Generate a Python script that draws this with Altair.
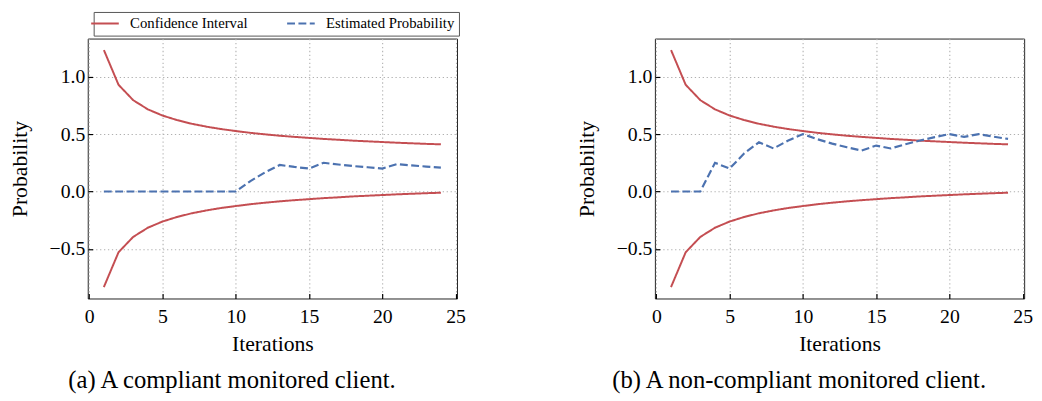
import altair as alt
import pandas as pd

iterations = [1, 2, 3, 4, 5, 6, 7, 8, 9, 10, 11, 12, 13, 14, 15, 16, 17, 18, 19, 20, 21, 22, 23, 24]
ci_upper = [1.233, 0.930, 0.796, 0.716, 0.662, 0.622, 0.590, 0.565, 0.544, 0.527, 0.511, 0.498,
            0.486, 0.476, 0.467, 0.458, 0.451, 0.443, 0.437, 0.431, 0.425, 0.420, 0.415, 0.411]
ci_lower = [-0.833, -0.530, -0.396, -0.316, -0.262, -0.222, -0.190, -0.165, -0.144, -0.127, -0.111, -0.098,
            -0.086, -0.076, -0.067, -0.058, -0.051, -0.043, -0.037, -0.031, -0.025, -0.020, -0.015, -0.011]
est_compliant = [0, 0, 0, 0, 0, 0, 0, 0, 0, 0, 0.091, 0.167,
                 0.231, 0.214, 0.200, 0.250, 0.235, 0.222, 0.211, 0.200, 0.238, 0.227, 0.217, 0.208]
est_noncompliant = [0, 0, 0, 0.250, 0.200, 0.333, 0.429, 0.375, 0.444, 0.500, 0.455, 0.417,
                    0.385, 0.357, 0.400, 0.375, 0.412, 0.444, 0.474, 0.500, 0.476, 0.500, 0.478, 0.458]

series_names = ["Confidence Interval", "Estimated Probability"]
series_colors = ["#C44E52", "#4C72B0"]
series_dashes = [[1, 0], [8, 3.5]]
x_ticks = [0, 5, 10, 15, 20, 25]
y_ticks = [-0.5, 0.0, 0.5, 1.0]
captions = ["(a) A compliant monitored client.", "(b) A non-compliant monitored client."]

FONT = "Liberation Serif"


def make_df(est):
    rows = []
    for i, x in enumerate(iterations):
        rows.append({"it": x, "val": ci_upper[i], "series": series_names[0], "part": "upper"})
        rows.append({"it": x, "val": ci_lower[i], "series": series_names[0], "part": "lower"})
        rows.append({"it": x, "val": est[i], "series": series_names[1], "part": "est"})
    return pd.DataFrame(rows)


xscale = alt.Scale(domain=[-0.1, 25.1], nice=False, zero=False)
yscale = alt.Scale(domain=[-0.933, 1.333], nice=False, zero=False)
cscale = alt.Scale(domain=series_names, range=series_colors)
dscale = alt.Scale(domain=series_names, range=series_dashes)

grid_kw = dict(grid=True, gridColor="#b0b0b0", gridDash=[1.3, 2.7], gridWidth=1.1)
text_kw = dict(labelFont=FONT, labelFontSize=20, labelColor="black",
               titleFont=FONT, titleFontSize=22, titleFontWeight="normal", titleColor="black")


def panel(est, caption):
    df = make_df(est)
    base = alt.Chart(df)
    enc_common = dict(
        color=alt.Color("series:N", scale=cscale, legend=alt.Legend(title=None)),
        strokeDash=alt.StrokeDash("series:N", scale=dscale, legend=alt.Legend(title=None)),
        detail="part:N",
    )
    ci = base.transform_filter(alt.datum.part != "est").mark_line(strokeWidth=2).encode(
        x=alt.X("it:Q", scale=xscale, title="Iterations",
                axis=alt.Axis(values=x_ticks, format="d", labelFlush=False, ticks=False, domain=False,
                              labelPadding=8, titlePadding=8, **grid_kw, **text_kw)),
        y=alt.Y("val:Q", scale=yscale, title="Probability",
                axis=alt.Axis(values=y_ticks, format=".1f", ticks=False, domain=False,
                              labelPadding=3, titlePadding=18, **grid_kw, **text_kw)),
        **enc_common,
    )
    est_line = base.transform_filter(alt.datum.part == "est").mark_line(strokeWidth=2.2).encode(
        x=alt.X("it:Q", scale=xscale, title=None,
                axis=alt.Axis(orient="bottom", offset=-5, values=x_ticks, tickSize=5, ticks=True,
                              labels=False, grid=False, domain=False, tickColor="black", tickWidth=1.2)),
        y=alt.Y("val:Q", scale=yscale, title=None,
                axis=alt.Axis(orient="left", offset=-5, values=y_ticks, tickSize=5, ticks=True,
                              labels=False, grid=False, domain=False, tickColor="black", tickWidth=1.2)),
        **enc_common,
    )
    return alt.layer(ci, est_line).resolve_axis(x="independent", y="independent").properties(
        width=375, height=264,
        title=alt.TitleParams(text=caption, orient="bottom", anchor="middle", font=FONT,
                              fontSize=25, fontWeight="normal", color="black", offset=14, dx=-41),
    )


chart = alt.hconcat(panel(est_compliant, captions[0]), panel(est_noncompliant, captions[1]), spacing=110)
chart = chart.resolve_scale(color="shared", strokeDash="shared").resolve_legend(
    color="shared", strokeDash="shared").properties(padding=0)

chart = chart.configure_view(stroke="#222222", strokeWidth=1).configure_axis(
    titleFont=FONT, labelFont=FONT
).configure_legend(
    orient="none", legendX=6, legendY=-27, direction="horizontal",
    symbolType="M-2.55,0L2.55,0", symbolSize=121, symbolStrokeWidth=2,
    labelFont=FONT, labelFontSize=15, labelColor="black", labelOffset=18,
    columnPadding=35, padding=4, strokeColor="#555555", fillColor="white", cornerRadius=0,
)

chart.save("out.html", embed_options={"renderer": "svg", "actions": False})
